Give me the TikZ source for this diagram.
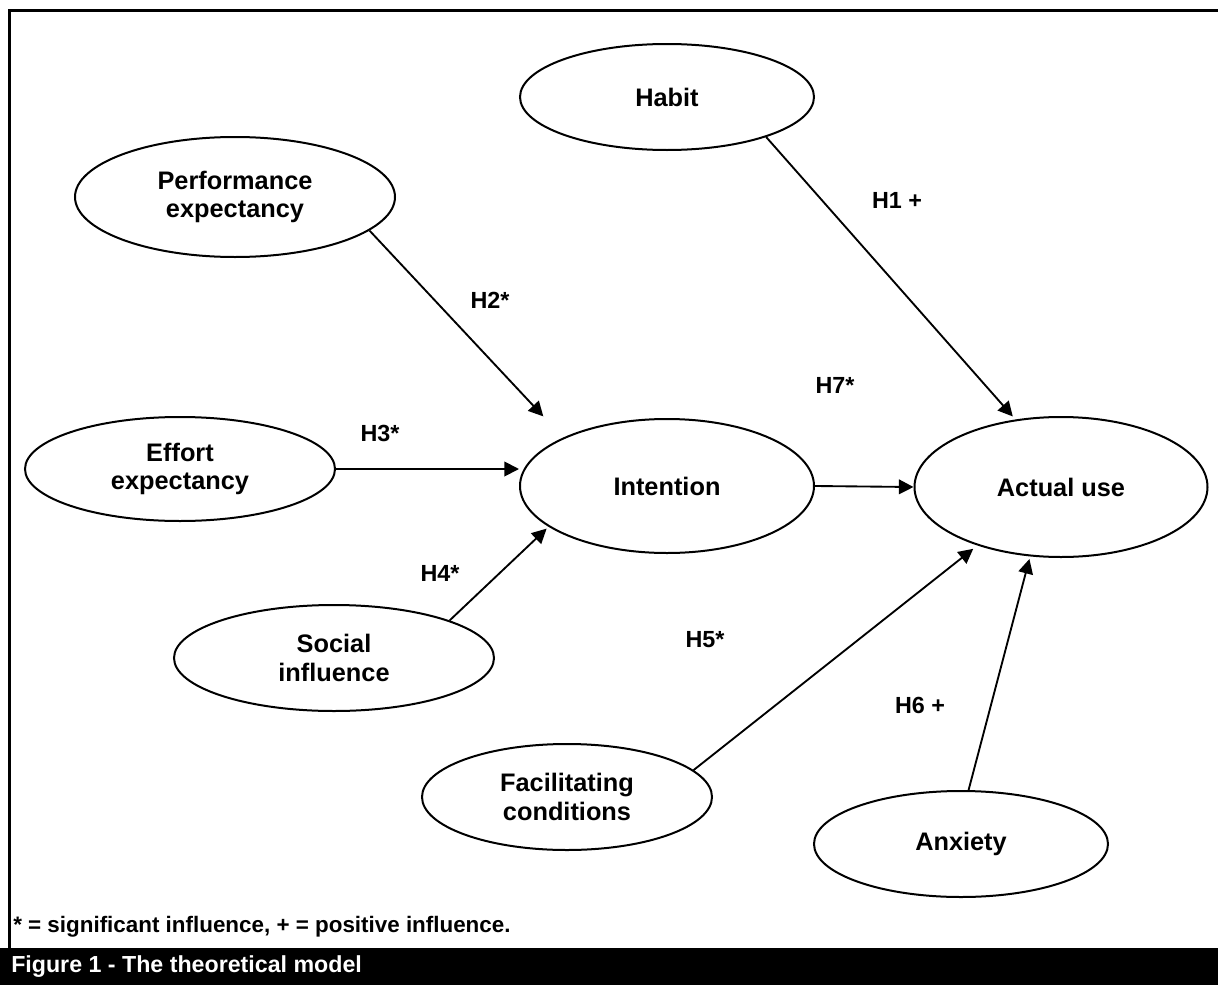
\documentclass[tikz,border=0pt]{standalone}
\usepackage{fontspec}
\setmainfont{Liberation Sans}
\usetikzlibrary{shapes.geometric,arrows.meta}
\begin{document}
\begin{tikzpicture}[x=0.75pt,y=-0.75pt,
  ell/.style={ellipse,draw,line width=1.5pt,inner sep=0pt,align=center,
    font=\fontsize{19}{21.4}\selectfont\bfseries},
  arr/.style={line width=1.4pt,-{Triangle[length=11pt,width=11pt]}},
  hlab/.style={font=\fontsize{17.5}{20}\selectfont\bfseries,inner sep=0pt}]
\useasboundingbox (0,0) rectangle (1218,985);
\fill[white] (0,0) rectangle (1218,985);
\draw[line width=2.25pt] (9,948) -- (9,10) -- (1218,10);
\fill[black] (0,948) rectangle (1218,985);
\node[anchor=west,inner sep=0pt,text=white,font=\fontsize{17.4}{20}\selectfont\bfseries] (fig) at (11,967) {Figure 1 - The theoretical model};
\node[anchor=west,inner sep=0pt,font=\fontsize{16.8}{20}\selectfont\bfseries] (note) at (13,927) {* = significant influence, + = positive influence.};

\node[ell,minimum width=220.5pt,minimum height=79.5pt] (habit) at (667,97) {Habit};
\node[ell,minimum width=240pt,minimum height=90pt] (perf) at (235,197) {Performance\\expectancy};
\node[ell,minimum width=232.5pt,minimum height=78pt] (eff) at (180,469) {Effort\\expectancy};
\node[ell,minimum width=220.5pt,minimum height=100.5pt] (int) at (667,486) {Intention};
\node[ell,minimum width=219.75pt,minimum height=105pt] (act) at (1061,487) {Actual use};
\node[ell,minimum width=240pt,minimum height=79.5pt] (soc) at (334,658) {Social\\influence};
\node[ell,minimum width=217.5pt,minimum height=79.5pt] (fac) at (567,797) {Facilitating\\conditions};
\node[ell,minimum width=220.5pt,minimum height=79.5pt] (anx) at (961,844) {Anxiety};

\draw[arr,shorten >=3pt] (habit.-22) -- (act.124);
\draw[arr,shorten >=21.75pt] (perf.-14) -- (int.155);
\draw[arr] (eff.east) -- (eff.east -| int.west);
\draw[arr,shorten >=2pt] (soc.18) -- (int.-161);
\draw[arr] (int.east) -- (act.west);
\draw[arr,shorten >=4pt] (fac.12.5) -- (act.-145.7);
\draw[arr,shorten >=2pt] (anx.82) -- (act.-114.5);

\node[hlab] (h1) at (897,200) {H1 +};
\node[hlab] (h2) at (490,300) {H2*};
\node[hlab] (h3) at (380,433) {H3*};
\node[hlab] (h4) at (440,573) {H4*};
\node[hlab] (h5) at (705,640) {H5*};
\node[hlab] (h6) at (920,705) {H6 +};
\node[hlab] (h7) at (835,385) {H7*};
\end{tikzpicture}
\end{document}
